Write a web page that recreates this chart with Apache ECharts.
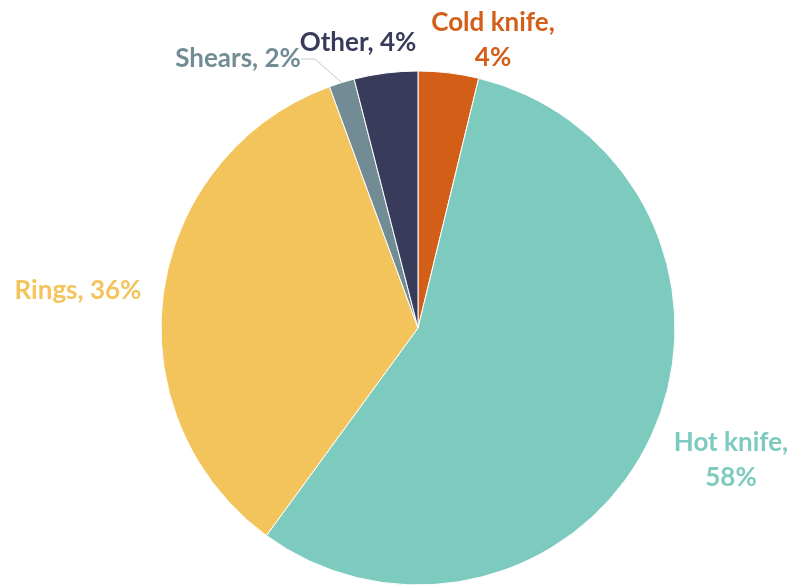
<!DOCTYPE html>
<html>
<head>
<meta charset="utf-8">
<script src="https://cdn.jsdelivr.net/npm/echarts@6/dist/echarts.min.js"></script>
<style>html,body{margin:0;padding:0;background:#fff;}#c{width:799px;height:588px;}</style>
</head>
<body>
<div id="c"></div>
<script>
// Data
const categories = ['Cold knife', 'Hot knife', 'Rings', 'Shears', 'Other'];
const shares = [3.8, 56.3, 34.4, 1.6, 4.0];           // slice sizes
const shareLabels = ['4%', '58%', '36%', '2%', '4%']; // percentages printed on the chart

// Styles
const colors = ['#D35E18', '#7DCBBE', '#F4C45C', '#728C96', '#383C5A'];
const labelPos = [
  { x: 493, y: 40 },
  { x: 731, y: 460 },
  { x: 78, y: 291 },
  { x: 238, y: 59 },
  { x: 358, y: 43 }
];
const multiLine = [true, true, false, false, false];

const chart = echarts.init(document.getElementById('c'), null, { renderer: 'canvas' });
chart.setOption({
  animation: false,
  backgroundColor: '#ffffff',
  series: [{
    type: 'pie',
    center: [418, 328],
    radius: 257,
    startAngle: 90,
    clockwise: true,
    avoidLabelOverlap: false,
    itemStyle: { borderColor: '#ffffff', borderWidth: 1 },
    label: {
      show: true,
      fontFamily: 'Lato',
      fontWeight: 'bold',
      fontSize: 26,
      lineHeight: 35,
      align: 'center',
      verticalAlign: 'middle'
    },
    labelLine: { show: false, lineStyle: { color: '#c8c8c8', width: 1 } },
    labelLayout: function (p) {
      const pos = labelPos[p.dataIndex];
      return { x: pos.x, y: pos.y, align: 'center', verticalAlign: 'middle', hideOverlap: false };
    },
    data: categories.map((name, i) => ({
      name: name,
      value: shares[i],
      itemStyle: { color: colors[i] },
      label: {
        color: colors[i],
        formatter: name + ',' + (multiLine[i] ? '\n' : ' ') + shareLabels[i]
      },
      labelLine: { show: i === 3, length: 12, length2: 14 }
    }))
  }]
});
</script>
</body>
</html>
